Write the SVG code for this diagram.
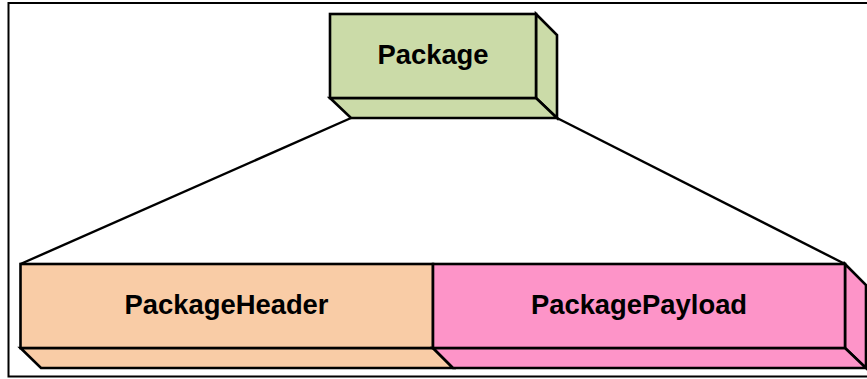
<svg xmlns="http://www.w3.org/2000/svg" width="867" height="379" viewBox="0 0 867 379">
<style>
.e{stroke:#000;stroke-width:2.6;stroke-linejoin:miter}
.t{font-family:"Liberation Sans",Arial,sans-serif;font-weight:bold;font-size:27.4px;fill:#000;text-anchor:middle}
.g{fill:#cbdba8}
.h{fill:#f9cca6}
.p{fill:#fd94c8}
</style>
<rect width="867" height="379" fill="#fff"/>
<path d="M867,3 H8.5 V376.5 H867" fill="none" stroke="#000" stroke-width="2"/>
<g id="connectors" fill="none" stroke="#000" stroke-width="2.4">
<line x1="351" y1="118" x2="20.5" y2="264"/>
<line x1="557" y1="118" x2="845" y2="264"/>
</g>
<g id="package">
<polygon class="e g" points="536,14 557,35 557,118 536,98"/>
<polygon class="e g" points="330,98 536,98 557,118 351,118"/>
<rect class="e g" x="330" y="14" width="206" height="84"/>
<text class="t" x="433" y="64">Package</text>
</g>
<g id="packageHeader">
<polygon class="e h" points="20.5,348 433,348 453,368 41,368"/>
<rect class="e h" x="20.5" y="264" width="412.5" height="84"/>
<text class="t" x="226.5" y="314">PackageHeader</text>
</g>
<g id="packagePayload">
<polygon class="e p" points="845,264 866,285 866,368 845,348"/>
<polygon class="e p" points="433,348 845,348 866,368 453,368"/>
<rect class="e p" x="433" y="264" width="412" height="84"/>
<text class="t" x="639" y="314">PackagePayload</text>
</g>
</svg>
